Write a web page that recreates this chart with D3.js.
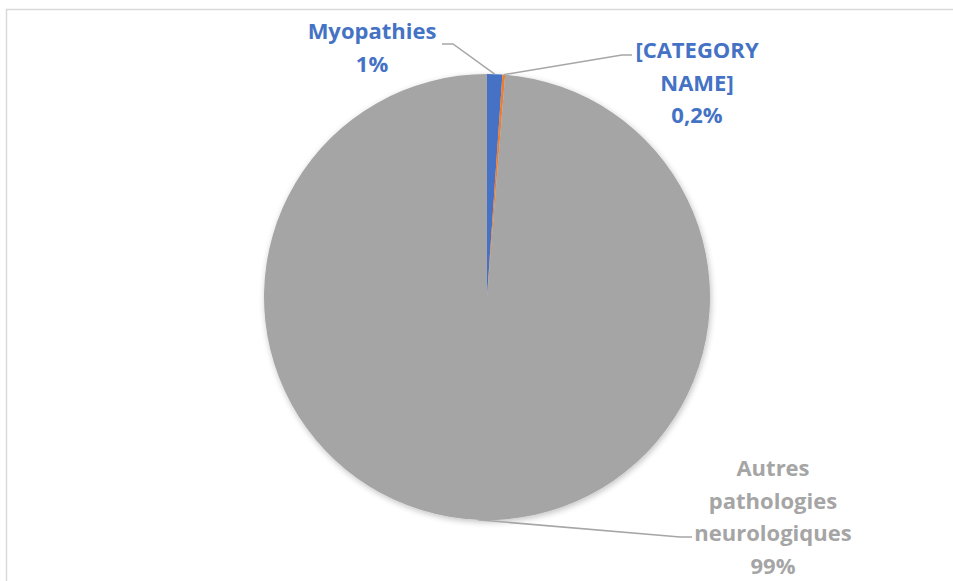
<!DOCTYPE html>
<html>
<head>
<meta charset="utf-8">
<script src="https://cdn.jsdelivr.net/npm/d3@7"></script>
<style>
  body { margin: 0; background: #fff; }
  svg text { font-family: "Open Sans", "Liberation Sans", sans-serif; font-weight: bold; }
</style>
</head>
<body>
<script>
// data
var categories = ["Myopathies", "[CATEGORY NAME]", "Autres pathologies neurologiques"];
var values = [1.1, 0.2, 98.7];
var pctLabels = ["1%", "0,2%", "99%"];
var labelLines = [["Myopathies"], ["[CATEGORY", "NAME]"], ["Autres", "pathologies", "neurologiques"]];
var colors = ["#4472C4", "#ED7D31", "#A5A5A5"];
var labelColors = ["#4472C4", "#4472C4", "#A5A5A5"];

var W = 953, H = 581;
var cx = 487, cy = 297, R = 223;
// label block centre (x, first line baseline) and leader elbow
var labelPos = [
  { x: 372, y: 39, elbow: [453, 44], end: [442, 44] },
  { x: 697, y: 58, elbow: [622, 55], end: [632, 55] },
  { x: 773, y: 476, elbow: [680, 537], end: [692, 537] }
];
var lineH = 32.5;

var svg = d3.select("body").append("svg").attr("width", W).attr("height", H);

// frame
svg.append("path")
  .attr("d", "M6.5," + H + "V9.5H" + W)
  .attr("fill", "none").attr("stroke", "#d9d9d9").attr("stroke-width", 1.5);

var defs = svg.append("defs");
var f = defs.append("filter").attr("id", "sh").attr("x", "-10%").attr("y", "-10%").attr("width", "120%").attr("height", "120%");
f.append("feGaussianBlur").attr("in", "SourceAlpha").attr("stdDeviation", 3);
f.append("feOffset").attr("dx", 1).attr("dy", 2).attr("result", "b");
f.append("feComponentTransfer").append("feFuncA").attr("type", "linear").attr("slope", 0.25);
var m = f.append("feMerge");
m.append("feMergeNode");
m.append("feMergeNode").attr("in", "SourceGraphic");

var pie = d3.pie().sort(null).value(function(d) { return d; });
var arcs = pie(values);
var arc = d3.arc().innerRadius(0).outerRadius(R);
var edgeArc = d3.arc().innerRadius(R).outerRadius(R);

var g = svg.append("g").attr("transform", "translate(" + cx + "," + cy + ")");
g.append("g").attr("filter", "url(#sh)")
  .selectAll("path").data(arcs).enter().append("path")
  .attr("d", arc)
  .attr("fill", function(d, i) { return colors[i]; });

// leader lines
svg.selectAll("polyline.leader").data(arcs).enter().append("polyline")
  .attr("class", "leader")
  .attr("fill", "none").attr("stroke", "#a6a6a6").attr("stroke-width", 1.5)
  .attr("points", function(d, i) {
    var c = edgeArc.centroid(d);
    var p = labelPos[i];
    return [[cx + c[0], cy + c[1]], p.elbow, p.end].map(function(q) { return q.join(","); }).join(" ");
  });

// labels
var lg = svg.selectAll("text.lbl").data(categories).enter().append("text")
  .attr("class", "lbl")
  .attr("text-anchor", "middle")
  .attr("font-size", 22)
  .attr("fill", function(d, i) { return labelColors[i]; });
lg.each(function(d, i) {
  var t = d3.select(this);
  var lines = labelLines[i].concat([pctLabels[i]]);
  lines.forEach(function(s, j) {
    t.append("tspan").attr("x", labelPos[i].x).attr("y", labelPos[i].y + j * lineH).text(s);
  });
});
</script>
</body>
</html>
